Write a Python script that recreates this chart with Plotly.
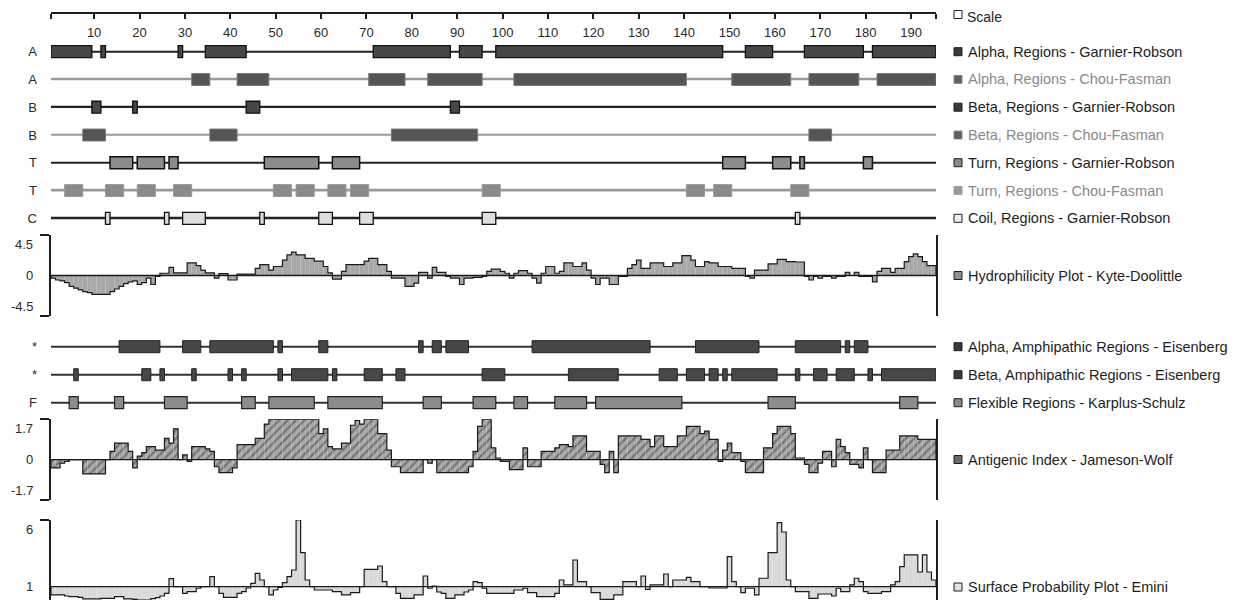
import plotly.graph_objects as go

# The page body has an 8px default margin; positions below are page pixels.
PAGE_W, PAGE_H = 1252, 601
BODY = 8
W, H = PAGE_W - BODY, PAGE_H - BODY
PLOT_L, PLOT_R = 51, 936          # page px of the residue axis ends
N_RES = 195
residues = list(range(1, N_RES + 1))
scale_ticks = list(range(10, 200, 10))

# ---- secondary structure / region tracks (start, end residues) ----
alpha_gr = [(1, 9), (12, 12), (29, 29), (35, 43), (72, 88), (91, 95), (99, 148), (154, 159), (167, 179), (182, 195)]
alpha_cf = [(32, 35), (42, 48), (71, 78), (84, 95), (103, 140), (151, 163), (168, 178), (183, 195)]
beta_gr = [(10, 11), (19, 19), (44, 46), (89, 90)]
beta_cf = [(8, 12), (36, 41), (76, 94), (168, 172)]
turn_gr = [(14, 18), (20, 25), (27, 28), (48, 59), (63, 68), (149, 153), (160, 163), (166, 166), (180, 181)]
turn_cf = [(4, 7), (13, 16), (20, 23), (28, 31), (50, 53), (55, 58), (62, 65), (67, 70), (96, 99), (141, 144), (147, 150), (164, 167)]
coil_gr = [(13, 13), (26, 26), (30, 34), (47, 47), (60, 62), (69, 71), (96, 98), (165, 165)]
alpha_amph = [(16, 24), (30, 33), (36, 49), (51, 51), (60, 61), (82, 82), (85, 86), (88, 92), (107, 132), (143, 156), (165, 174), (176, 176), (178, 180)]
beta_amph = [(6, 6), (21, 22), (25, 25), (32, 32), (40, 40), (43, 43), (51, 51), (54, 61), (63, 63), (70, 73), (77, 78), (96, 100), (115, 125), (135, 138), (141, 144), (146, 147), (149, 149), (151, 160), (165, 165), (169, 171), (174, 177), (181, 181), (184, 195)]
flexible = [(5, 6), (15, 16), (26, 30), (43, 45), (49, 58), (62, 73), (83, 86), (94, 98), (103, 105), (112, 118), (121, 139), (159, 164), (188, 191)]

# ---- per-residue profiles ----
hydrophilicity = [
    -0.3, -0.5, -0.6, -0.8, -1.2, -1.4, -1.6, -1.8, -1.9, -2.1,
    -2.1, -2.1, -2.1, -1.8, -1.5, -1.2, -0.9, -0.7, -0.6, -1.0,
    -0.8, -0.3, -1.0, -0.1, 0.25, 0.25, 0.9, 0.3, 0.3, 0.3,
    1.4, 1.4, 1.1, 0.6, 0.3, 0.3, -0.3, 0.2, 0.2, -0.5,
    -0.5, 0.15, 0.15, 0.15, 0.15, 0.8, 1.2, 1.2, 0.6, 1.0,
    1.0, 1.7, 2.3, 2.6, 2.3, 2.3, 1.9, 1.9, 1.6, 1.6,
    1.0, 0.3, -0.4, -0.4, 0.45, 1.2, 1.2, 1.2, 1.2, 1.6,
    1.9, 1.9, 1.2, 1.2, 0.45, -0.3, -0.3, -0.3, -1.2, -1.2,
    -0.85, 0.35, 0.35, -0.3, 0.9, 0.35, 0.35, -0.1, -0.3, -0.3,
    -1.0, -0.3, -0.3, -0.2, -0.2, -0.1, 0.45, 0.7, 0.7, 0.45,
    0.25, -0.3, 0.25, 0.55, 0.55, 0.25, -0.3, -0.85, 0.25, 1.0,
    1.0, 0.25, 0.45, 1.4, 1.4, 1.0, 1.0, 1.4, 0.6, -0.3,
    -1.0, -0.3, -0.3, -1.0, -1.0, -0.1, -0.1, 0.8, 1.2, 1.7,
    0.8, 0.8, 1.4, 1.4, 1.4, 1.0, 1.0, 1.4, 1.4, 2.2,
    2.2, 1.7, 1.0, 1.0, 1.55, 1.4, 1.4, 1.0, 1.0, 1.0,
    0.8, 0.8, 0.8, -0.1, -0.3, 0.6, 0.6, 0.6, 1.3, 1.3,
    1.8, 1.8, 1.55, 1.55, 1.5, 1.5, -0.1, -0.5, -0.1, -0.3,
    -0.1, -0.1, -0.3, -0.1, -0.1, 0.35, 0.0, 0.35, -0.1, -0.1,
    -0.1, -0.7, 0.45, 0.8, 0.8, 0.35, 0.8, 0.8, 1.55, 2.1,
    2.4, 2.1, 1.55, 1.1, 1.1,
]
antigenic = [
    -0.35, -0.35, -0.15, -0.07, 0, 0, 0, -0.6, -0.6, -0.6,
    -0.6, -0.6, 0, 0.35, 0.7, 0.7, 0.7, 0.35, -0.35, 0.15,
    0.3, 0.55, 0.55, 0.4, 0.4, 0.9, 0.7, 1.3, 0, 0.2,
    -0.07, 0.55, 0.55, 0.55, 0.45, 0.35, -0.3, -0.55, -0.55, -0.55,
    -0.35, 0.63, 0.63, 0.63, 0.63, 0.9, 0.9, 1.5, 1.7, 1.7,
    1.7, 1.7, 1.7, 1.7, 1.7, 1.7, 1.7, 1.7, 1.7, 1.1,
    1.3, 0.55, 0.45, 0.45, 0.7, 0.7, 1.45, 1.65, 1.5, 1.7,
    1.7, 1.7, 1.1, 1.1, 0.4, -0.3, -0.3, -0.55, -0.55, -0.55,
    -0.55, -0.55, 0, -0.15, 0, -0.55, -0.55, -0.55, -0.55, -0.55,
    -0.55, -0.55, -0.3, 0.35, 1.4, 1.7, 1.7, 0.5, 0.07, -0.07,
    -0.07, -0.42, -0.42, -0.42, 0.5, -0.3, -0.3, -0.3, 0.35, 0.35,
    0.35, 0.5, 0.63, 0.63, 0.55, 1.0, 1.0, 1.0, 0.35, 0.35,
    0.35, -0.2, -0.55, 0.35, -0.55, 1.0, 1.0, 1.0, 1.0, 1.0,
    0.85, 0.85, 0.55, 1.0, 1.0, 0.55, 0.55, 0.55, 1.0, 1.0,
    1.4, 1.4, 1.4, 1.1, 1.2, 0.85, 0.85, -0.07, 0.4, 0.7,
    0.3, 0.3, -0.07, -0.55, -0.55, -0.55, -0.55, 0.5, 0.5, 1.1,
    1.4, 1.4, 1.4, 1.1, 0.07, 0.07, -0.2, -0.55, -0.55, -0.15,
    0.35, 0.35, -0.3, 0.85, 0.55, 0.3, -0.2, -0.2, -0.35, 0.5,
    0, -0.55, -0.55, -0.55, 0.4, 0.4, 0.4, 1.0, 1.0, 1.0,
    1.0, 0.85, 0.85, 0.85, 0.85,
]
surface = [
    0.38, 0.38, 0.38, 0.3, 0.25, 0.25, 0.2, 0.08, 0.08, 0.08,
    0.08, 0.12, 0.12, 0.12, 0.25, 0.25, 0.08, 0.08, 0.05, 0.0,
    0.0, 0.0, 0.1, 0.18, 0.3, 0.5, 1.6, 1.0, 1.0, 0.5,
    0.63, 0.63, 0.88, 1.0, 1.0, 1.75, 1.0, 0.5, 0.2, 0.2,
    0.2, 0.5, 0.63, 0.9, 1.25, 2.0, 1.5, 1.0, 0.38, 0.75,
    0.95, 1.3, 1.75, 2.25, 6.0, 3.55, 1.5, 1.0, 0.75, 0.75,
    0.75, 0.75, 0.63, 0.63, 0.38, 0.38, 0.55, 0.55, 1.0, 2.3,
    2.3, 2.3, 2.55, 1.38, 1.0, 1.0, 0.5, 0.12, 0.12, 0.12,
    0.38, 0.38, 1.8, 0.88, 1.05, 0.6, 0.5, 0.12, 0.12, 0.38,
    0.38, 0.6, 0.75, 1.38, 1.3, 0.88, 0.5, 0.5, 0.5, 0.5,
    0.5, 0.5, 0.75, 0.75, 0.88, 0.55, 0.55, 0.25, 0.25, 0.25,
    0.25, 0.5, 1.5, 1.13, 1.13, 3.0, 1.38, 1.38, 1.0, 0.55,
    0.55, 0.05, 0.05, 0.05, 0.38, 0.38, 1.38, 1.38, 1.38, 1.0,
    1.8, 0.8, 1.13, 1.13, 1.13, 1.95, 1.0, 1.5, 1.5, 1.5,
    1.7, 1.38, 1.38, 1.0, 1.0, 0.9, 0.9, 0.9, 0.9, 3.25,
    1.38, 1.0, 0.55, 0.88, 0.88, 0.38, 1.63, 1.63, 3.55, 3.55,
    5.8, 5.1, 1.5, 1.0, 0.63, 0.63, 0.63, 0.12, 0.12, 0.45,
    0.45, 0.45, 0.3, 0.88, 0.63, 0.63, 1.13, 1.63, 1.38, 0.63,
    0.5, 0.5, 0.5, 0.63, 0.63, 1.13, 1.38, 2.5, 3.38, 3.38,
    3.38, 2.1, 3.38, 2.1, 1.5,
]

FONT = "Liberation Sans, Arial, sans-serif"
DARK = "#1e1e1e"
GRAY_TXT = "#8a8a8a"


def frac(page_px):
    return 1 - (page_px - BODY) / H


def dom(top, bot):
    return [max(0.0, frac(bot)), min(1.0, frac(top))]


def px_x(page_px):
    return (page_px - PLOT_L) / (PLOT_R - PLOT_L)


fig = go.Figure()
BAR_W = 0.43
LINE_W_UNITS = 0.06


def add_track(regions, idx, yax, fill, edge, ew, linecol):
    fig.add_trace(go.Bar(orientation="h", y=[idx], x=[N_RES], base=[0.5], width=LINE_W_UNITS,
                         marker=dict(color=linecol, line=dict(width=0)),
                         xaxis="x", yaxis=yax, hoverinfo="skip", showlegend=False))
    fig.add_trace(go.Bar(orientation="h", y=[idx] * len(regions),
                         x=[e - s + 1 for s, e in regions],
                         base=[s - 0.5 for s, e in regions], width=BAR_W,
                         marker=dict(color=fill, line=dict(color=edge, width=ew)),
                         xaxis="x", yaxis=yax, hoverinfo="skip", showlegend=False))


top_tracks = [
    ("A", alpha_gr, "#474747", "#111111", 1.3, "#222222"),
    ("A", alpha_cf, "#555555", "#7a7a7a", 1.0, "#9a9a9a"),
    ("B", beta_gr, "#474747", "#111111", 1.3, "#222222"),
    ("B", beta_cf, "#555555", "#7a7a7a", 1.0, "#9a9a9a"),
    ("T", turn_gr, "#8c8c8c", "#111111", 1.5, "#222222"),
    ("T", turn_cf, "#8a8a8a", "#9a9a9a", 1.0, "#9a9a9a"),
    ("C", coil_gr, "#dedede", "#111111", 1.3, "#222222"),
]
for i, (lab, regs, fc, ec, ew, lc) in enumerate(top_tracks):
    add_track(regs, i, "y2", fc, ec, ew, lc)

bot_tracks = [
    ("*", alpha_amph, "#474747", "#222222", 1.0, "#333333"),
    ("*", beta_amph, "#474747", "#222222", 1.0, "#333333"),
    ("F", flexible, "#8c8c8c", "#222222", 1.2, "#333333"),
]
for i, (lab, regs, fc, ec, ew, lc) in enumerate(bot_tracks):
    add_track(regs, i, "y4", fc, ec, ew, lc)


def add_profile(values, yax, base, marker, clip_hi=None):
    vals = [min(v, clip_hi) if clip_hi is not None else v for v in values]
    fig.add_trace(go.Bar(x=residues, y=[v - base for v in vals], base=base, width=1.0,
                         marker=marker, xaxis="x", yaxis=yax,
                         hoverinfo="skip", showlegend=False))
    xs = [0.5] + [r - 0.5 for r in residues] + [N_RES + 0.5, N_RES + 0.5]
    ys = [base] + vals + [vals[-1], base]
    fig.add_trace(go.Scatter(x=xs, y=ys, mode="lines", line=dict(color="#1a1a1a", width=1.2, shape="hv"),
                             xaxis="x", yaxis=yax, hoverinfo="skip", showlegend=False))
    fig.add_trace(go.Scatter(x=[0.5, N_RES + 0.5], y=[base, base], mode="lines",
                             line=dict(color="#1a1a1a", width=1.4),
                             xaxis="x", yaxis=yax, hoverinfo="skip", showlegend=False))


add_profile(hydrophilicity, "y3", 0,
            dict(color="#aaaaaa", line=dict(width=0),
                 pattern=dict(shape=".", fgcolor="#606060", bgcolor="#bdbdbd", size=2, solidity=0.5)))
add_profile(antigenic, "y5", 0,
            dict(color="#999999", line=dict(width=0),
                 pattern=dict(shape="/", fgcolor="#3a3a3a", bgcolor="#a8a8a8", size=6, solidity=0.35)),
            clip_hi=1.7)
add_profile(surface, "y6", 1,
            dict(color="#d9d9d9", line=dict(width=0)))

# ---- axes ----
prof_axis = dict(showline=True, linecolor=DARK, linewidth=1.5, mirror=True, ticks="outside",
                 ticklen=9, tickwidth=1.5, tickcolor=DARK, showticklabels=False,
                 showgrid=False, zeroline=False, anchor="x", fixedrange=True)
track_axis = dict(showline=False, showgrid=False, zeroline=False, ticks="", anchor="x",
                  tickfont=dict(family=FONT, size=13, color="#2a2a2a"), ticklabelstandoff=13,
                  fixedrange=True)

fig.update_layout(
    width=W, height=H,
    margin=dict(l=PLOT_L - BODY, r=W - (PLOT_R - BODY), t=0, b=0, pad=0),
    paper_bgcolor="white", plot_bgcolor="white",
    barmode="overlay", showlegend=False,
    font=dict(family=FONT, color=DARK),
    xaxis=dict(range=[0.5, N_RES + 0.5], anchor="free", position=frac(13), side="bottom",
               showline=True, linecolor=DARK, linewidth=1.5, ticks="outside", ticklen=5, tickwidth=1.5,
               tickcolor=DARK, tickvals=[0.5] + scale_ticks + [N_RES + 0.5],
               ticktext=[""] + [str(t) for t in scale_ticks] + [""],
               tickfont=dict(family=FONT, size=13, color="#2a2a2a"), ticklabelstandoff=3,
               showgrid=False, zeroline=False, fixedrange=True),
    yaxis2=dict(domain=dom(37.8, 232.2), range=[6.5, -0.5],
                tickvals=list(range(len(top_tracks))), ticktext=[t[0] for t in top_tracks], **track_axis),
    yaxis3=dict(domain=dom(235, 316), range=[-4.5, 4.5], tickvals=[-4.5, 4.5], **prof_axis),
    yaxis4=dict(domain=dom(332.7, 416.7), range=[2.5, -0.5],
                tickvals=list(range(len(bot_tracks))), ticktext=[t[0] for t in bot_tracks], **track_axis),
    yaxis5=dict(domain=dom(419.3, 500), range=[-1.7, 1.7], tickvals=[-1.7, 1.7], **prof_axis),
    yaxis6=dict(domain=dom(520, 600), range=[0, 6], tickvals=[6], **prof_axis),
)

# profile axis labels
lab_x = px_x(35)
axis_labels = [
    ("y3", 4.5, "4.5", "top"), ("y3", 0, "0", "middle"), ("y3", -4.5, "-4.5", "bottom"),
    ("y5", 1.7, "1.7", "top"), ("y5", 0, "0", "middle"), ("y5", -1.7, "-1.7", "bottom"),
    ("y6", 6, "6", "top"), ("y6", 1, "1", "middle"),
]
for yref, yv, txt, ya in axis_labels:
    fig.add_annotation(xref="paper", yref=yref, x=lab_x, y=yv, text=txt, showarrow=False,
                       xanchor="right", yanchor=ya, font=dict(family=FONT, size=13, color="#2a2a2a"))

# ---- right-hand legend (page px rows aligned with the tracks) ----
sq_x = px_x(958)
tx_x = px_x(966)
legend_items = [
    (14.5, "Scale", DARK, "#ffffff", DARK),
    (51.7, "Alpha, Regions - Garnier-Robson", DARK, "#3a3a3a", DARK),
    (79.4, "Alpha, Regions - Chou-Fasman", GRAY_TXT, "#606060", "#8a8a8a"),
    (107.2, "Beta, Regions - Garnier-Robson", DARK, "#3a3a3a", DARK),
    (135.0, "Beta, Regions - Chou-Fasman", GRAY_TXT, "#606060", "#8a8a8a"),
    (162.7, "Turn, Regions - Garnier-Robson", DARK, "#8a8a8a", DARK),
    (190.5, "Turn, Regions - Chou-Fasman", GRAY_TXT, "#9a9a9a", "#a0a0a0"),
    (218.3, "Coil, Regions - Garnier-Robson", DARK, "#eeeeee", DARK),
    (275.5, "Hydrophilicity Plot - Kyte-Doolittle", DARK, "#8f8f8f", DARK),
    (346.7, "Alpha, Amphipathic Regions - Eisenberg", DARK, "#3a3a3a", DARK),
    (374.7, "Beta, Amphipathic Regions - Eisenberg", DARK, "#3a3a3a", DARK),
    (402.7, "Flexible Regions - Karplus-Schulz", DARK, "#8a8a8a", DARK),
    (459.5, "Antigenic Index - Jameson-Wolf", DARK, "#6a6a6a", DARK),
    (587.0, "Surface Probability Plot - Emini", DARK, "#e2e2e2", DARK),
]
for i, (ypx, txt, tc, fc, ec) in enumerate(legend_items):
    yv = frac(ypx)
    fig.add_shape(type="rect", xref="paper", yref="paper", xsizemode="pixel", ysizemode="pixel",
                  xanchor=sq_x, yanchor=yv, x0=-4, x1=4, y0=-4, y1=4,
                  fillcolor=fc, line=dict(color=ec, width=1))
    if i == 0:
        # first row sits at the very top of the figure: anchor its top edge there
        fig.add_annotation(xref="paper", yref="paper", x=tx_x, y=1.0, text=txt, showarrow=False,
                           xanchor="left", yanchor="top", borderpad=0,
                           font=dict(family=FONT, size=14, color=tc))
    else:
        fig.add_annotation(xref="paper", yref="paper", x=tx_x, y=yv, text=txt, showarrow=False,
                           xanchor="left", yanchor="middle", font=dict(family=FONT, size=14.5, color=tc))

fig.write_html("out.html")
